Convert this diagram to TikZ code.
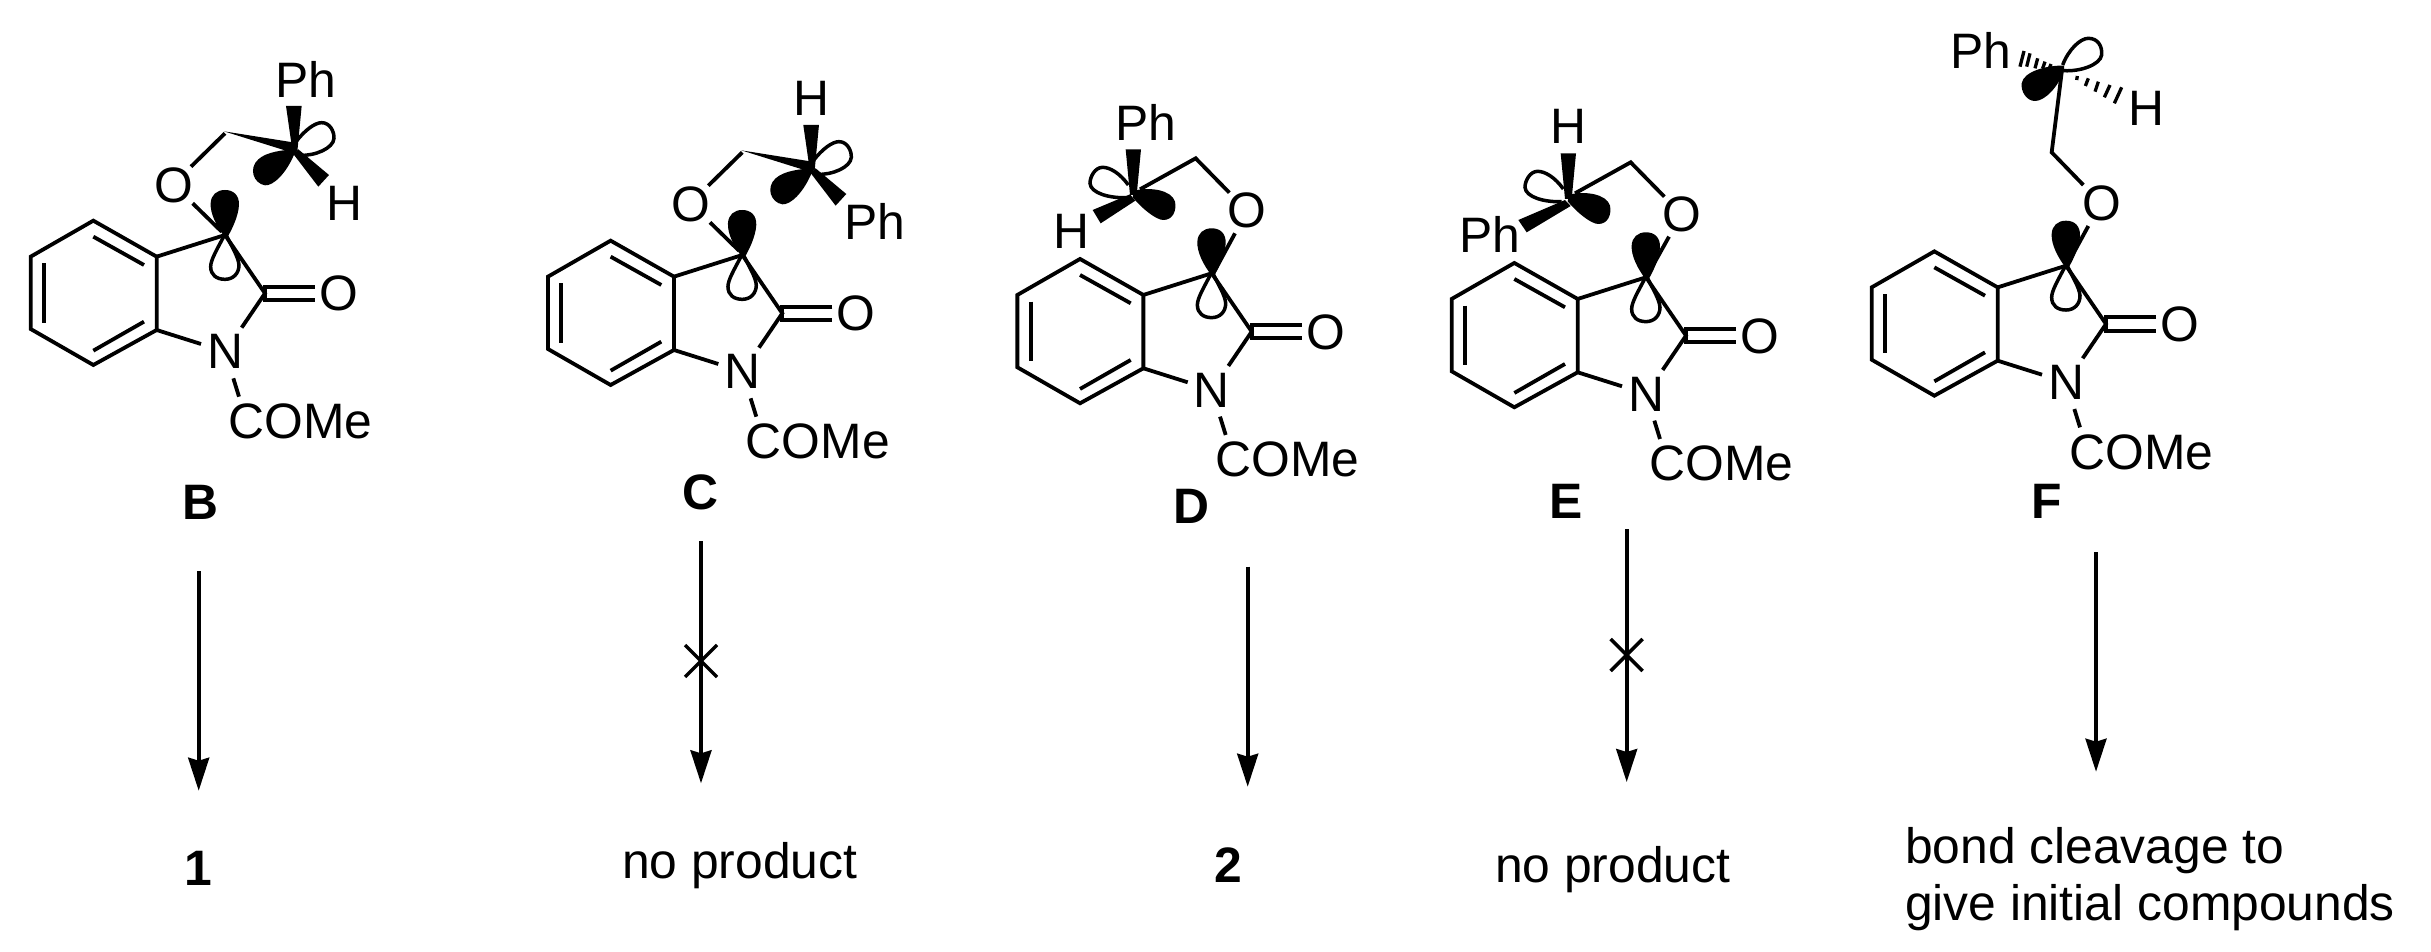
\documentclass[tikz,border=0pt]{standalone}
\usepackage{fontspec}
\setmainfont{Liberation Sans}
\usetikzlibrary{arrows.meta,calc}
\tikzset{
  bond/.style={line width=3.8pt,line join=miter,black},
  lobe/.style={line width=3.5pt,draw=black},
  rxn/.style={line width=3.6pt,-{Stealth[length=33pt,width=21pt,inset=3pt,sep=0pt]}},
  crossmark/.style={line width=3.5pt},
  atom/.style={inner sep=0pt,outer sep=0pt,font=\fontsize{49.8}{57}\selectfont},
  lab/.style={inner sep=0pt,outer sep=0pt,anchor=base,font=\fontsize{49.8}{57}\selectfont\bfseries},
  txt/.style={inner sep=0pt,outer sep=0pt,anchor=base west,font=\fontsize{49.8}{57}\selectfont},
}
% indolinone core, drawn in zoom-pixel units
\newcommand{\coremol}[3]{%
\begin{scope}[shift={(#2,#3)},x=0.33333pt,y=-0.33333pt]
  \draw[bond] (470,680) -- (470,900) -- (280,1005) -- (92,897) -- (92,680) -- (280,572) -- cycle;
  \draw[bond] (280,620) -- (432,705);
  \draw[bond] (132,700) -- (132,878);
  \draw[bond] (280,962) -- (432,875);
  \draw[bond] (470,680) -- (675,615) -- (795,790) -- (725,893);
  \draw[bond] (470,900) -- (603,942);
  \draw[bond] (945,770) -- (795,770) -- (795,810) -- (945,810);
  \draw[bond] (700,1045) -- (717,1100);
  \fill (675,622) .. controls (650,590) and (630,550) .. (632,520) .. controls (633,495) and (650,480) .. (675,480) .. controls (700,480) and (718,495) .. (717,525) .. controls (715,560) and (695,600) .. (682,622) -- cycle;
  \draw[lobe] (672,618) .. controls (650,660) and (632,690) .. (632,710) .. controls (632,735) and (650,748) .. (675,748) .. controls (700,748) and (717,730) .. (717,705) .. controls (715,680) and (695,650) .. (680,618);
  \node[atom,anchor=base] (#1O) at (1017,843) {O};
  \node[atom,anchor=base] (#1N) at (675,1017) {N};
  \node[atom,anchor=base west] (#1A) at (686,1225) {COMe};
\end{scope}}
% right-pointing sidechain of B and C (wedge from CH2, lobes)
\newcommand{\chainright}[2]{%
\begin{scope}[shift={(#1,#2)},x=0.33333pt,y=-0.33333pt]
  \draw[bond] (573,410) -- (675,310);
  \fill (672,304) -- (885,338) -- (890,372) -- cycle;
  \fill (885,367) .. controls (860,430) and (820,468) .. (795,466) .. controls (760,460) and (745,415) .. (775,388) .. controls (800,365) and (850,360) .. (885,358) -- cycle;
  \fill (858,228) -- (905,228) -- (892,365) -- (877,360) -- cycle;
  \fill (880,372) -- (895,358) -- (987,435) -- (955,470) -- cycle;
  \draw[lobe] (888,335) .. controls (915,300) and (945,278) .. (965,278) .. controls (990,278) and (1003,305) .. (1002,325) .. controls (1000,355) and (945,378) .. (900,376);
  \draw[bond] (578,520) -- (665,605);
\end{scope}}
% left-pointing sidechain of D and E
\newcommand{\chainleft}[2]{%
\begin{scope}[shift={(#1,#2)},x=0.33333pt,y=-0.33333pt]
  \draw[bond] (748,368) -- (647,265) -- (480,358);
  \fill (458,382) .. controls (490,420) and (530,450) .. (550,450) .. controls (580,450) and (590,420) .. (585,395) .. controls (575,360) and (510,350) .. (462,362) -- cycle;
  \fill (437,238) -- (483,238) -- (470,375) -- (450,375) -- cycle;
  \draw[lobe] (445,345) .. controls (420,310) and (390,292) .. (368,292) .. controls (345,292) and (330,320) .. (330,340) .. controls (332,370) and (390,385) .. (440,383);
\end{scope}}
\begin{document}
\begin{tikzpicture}[x=1pt,y=-1pt]
\useasboundingbox (0,0) rectangle (2431,952);
\fill[white] (0,0) rectangle (2431,952);

% ---------- B
\coremol{b}{0}{30}
\chainright{0}{30}
\begin{scope}[shift={(0,30)},x=0.33333pt,y=-0.33333pt]
  \node[atom,anchor=base] (bOx) at (523,517) {O};
  \node[atom,anchor=base west] (bPh) at (827,202) {Ph};
  \node[atom,anchor=base west] (bH) at (981,571) {H};
\end{scope}
\node[lab] (bLab) at (200,519) {B};
\coordinate (bS) at (198.7,571);
\coordinate (bT) at (198.7,790.7);
\draw[rxn] (bS) -- (bT);
\node[lab] (one) at (198.7,885.7) {1};

% ---------- C
\coremol{c}{517.3}{50}
\chainright{517.3}{49}
\begin{scope}[shift={(520,50)},x=0.33333pt,y=-0.33333pt]
  \node[atom,anchor=base] (cOx) at (513,515) {O};
  \node[atom,anchor=base west] (cH) at (820,198) {H};
  \node[atom,anchor=base west] (cPh) at (974,568) {Ph};
\end{scope}
\node[lab] (cLab) at (700,509) {C};
\coordinate (cS) at (701,541);
\coordinate (cT) at (701,783.3);
\coordinate (cX) at (701,661);
\draw[rxn] (cS) -- (cT);
\draw[crossmark] ($(cX)+(-16,-16)$) -- ($(cX)+(16,16)$);
\draw[crossmark] ($(cX)+(-16,16)$) -- ($(cX)+(16,-16)$);
\node[txt] (cRes) at (622,878) {no product};

% ---------- D
\coremol{d}{986.7}{68.3}
\chainleft{980}{70}
\begin{scope}[shift={(980,70)},x=0.33333pt,y=-0.33333pt]
  \fill (450,373) -- (466,392) -- (362,460) -- (338,420) -- cycle;
  \draw[bond] (765,490) -- (700,610);
  \node[atom,anchor=base] (dOx) at (800,473) {O};
  \node[atom,anchor=base west] (dPh) at (406,213) {Ph};
  \node[atom,anchor=base west] (dH) at (220,537) {H};
\end{scope}
\node[lab] (dLab) at (1191.7,523) {D};
\coordinate (dS) at (1247.7,566.7);
\coordinate (dT) at (1247.7,786.7);
\draw[rxn] (dS) -- (dT);
\node[lab] (two) at (1228.7,882.3) {2};

% ---------- E
\coremol{e}{1421}{72.3}
\chainleft{1415}{74}
\begin{scope}[shift={(1430,70)},x=0.33333pt,y=-0.33333pt]
  \fill (405,390) -- (422,408) -- (290,487) -- (265,450) -- cycle;
  \draw[bond] (717,500) -- (650,620);
  \node[atom,anchor=base] (eOx) at (755,486) {O};
  \node[atom,anchor=base west] (eH) at (360,222) {H};
  \node[atom,anchor=base west] (ePh) at (87,547) {Ph};
\end{scope}
\node[lab] (eLab) at (1566,518) {E};
\coordinate (eS) at (1626.7,529);
\coordinate (eT) at (1626.7,782);
\coordinate (eX) at (1626.7,655);
\draw[rxn] (eS) -- (eT);
\draw[crossmark] ($(eX)+(-16,-16)$) -- ($(eX)+(16,16)$);
\draw[crossmark] ($(eX)+(-16,16)$) -- ($(eX)+(16,-16)$);
\node[txt] (eRes) at (1495,882) {no product};

% ---------- F
\coremol{f}{1841}{60.7}
\begin{scope}[shift={(1850,0)},x=0.33333pt,y=-0.33333pt]
  \draw[bond] (715,678) -- (650,797);
  \draw[bond] (700,555) -- (605,457) -- (636,210);
  \fill (642,212) .. controls (625,260) and (585,303) .. (555,303) .. controls (530,303) and (512,275) .. (515,250) .. controls (520,215) and (590,195) .. (642,197) -- cycle;
  \draw[lobe] (638,195) .. controls (655,150) and (690,115) .. (715,115) .. controls (745,115) and (757,140) .. (755,165) .. controls (750,195) and (690,215) .. (642,212);
  \foreach \a/\b/\c/\d in {522/153/510/200,540/160/530/200,563/175/555/205,585/185/578/205,603/192/598/205,682/228/680/240,715/235/706/258,745/245/735/275,780/255/763/292,815/262/793/310}
    \draw[line width=3.3pt] (\a,\b) -- (\c,\d);
  \node[atom,anchor=base] (fOx) at (755,663) {O};
  \node[atom,anchor=base west] (fPh) at (301,205) {Ph};
  \node[atom,anchor=base west] (fH) at (835,378) {H};
\end{scope}
\node[lab] (fLab) at (2047,518) {F};
\coordinate (fS) at (2096,552);
\coordinate (fT) at (2096,771.7);
\draw[rxn] (fS) -- (fT);
\node[txt] (fRes1) at (1905,863.3) {bond cleavage to};
\node[txt] (fRes2) at (1905,920.7) {give initial compounds};
\end{tikzpicture}
\end{document}
